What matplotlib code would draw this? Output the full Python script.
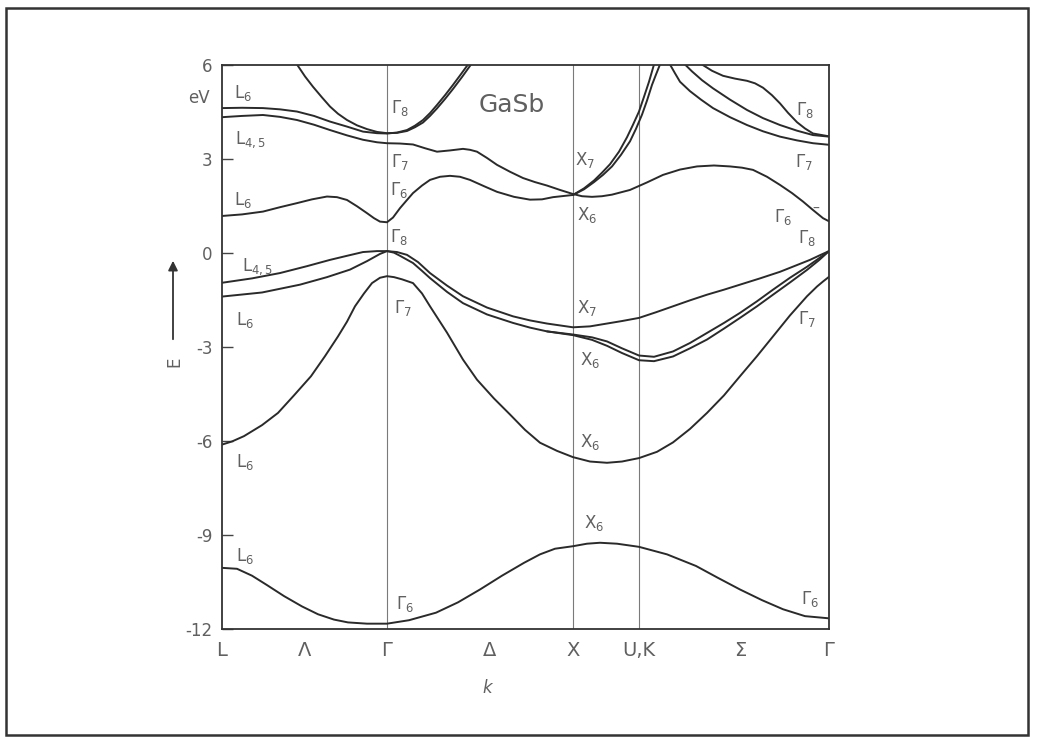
import matplotlib
matplotlib.use("Agg")
import matplotlib.pyplot as plt
from matplotlib.patches import Rectangle

# symmetry points along the path (arbitrary k units)
K_L, K_G, K_X, K_U, K_G2 = 0.0, 1.65, 3.51, 4.17, 6.07
k_ticks = [0.0, 0.83, 1.65, 2.68, 3.51, 4.17, 5.18, 6.07]
k_labels = ["L", "Λ", "Γ", "Δ", "X", "U,K", "Σ", "Γ"]
e_ticks = [-12, -9, -6, -3, 0, 3, 6]

# valence bands
v1_k = [0, 0.15, 0.30, 0.45, 0.62, 0.80, 0.96, 1.12, 1.26, 1.45, 1.65, 1.87, 2.14, 2.36, 2.58, 2.80,
        3.02, 3.18, 3.33, 3.51, 3.65, 3.78, 3.95, 4.17, 4.45, 4.74, 4.96, 5.18, 5.40, 5.61, 5.83, 6.07]
v1_e = [-10.05, -10.08, -10.30, -10.60, -10.95, -11.28, -11.53, -11.70, -11.79, -11.83, -11.83, -11.72,
        -11.48, -11.15, -10.74, -10.30, -9.89, -9.62, -9.44, -9.36, -9.28, -9.25, -9.28, -9.38, -9.62,
        -9.99, -10.37, -10.74, -11.08, -11.37, -11.59, -11.66]

v2_k = [0, 0.10, 0.22, 0.40, 0.56, 0.72, 0.89, 1.03, 1.16, 1.25, 1.33, 1.42, 1.50, 1.58, 1.65, 1.72,
        1.80, 1.91, 2.00, 2.08, 2.25, 2.41, 2.55, 2.72, 2.88, 3.03, 3.18, 3.35, 3.51, 3.68, 3.85, 4.00,
        4.17, 4.35, 4.51, 4.68, 4.85, 5.02, 5.18, 5.35, 5.51, 5.68, 5.85, 5.95, 6.01, 6.07]
v2_e = [-6.12, -6.02, -5.85, -5.50, -5.11, -4.55, -3.94, -3.30, -2.67, -2.20, -1.71, -1.30, -0.97,
        -0.80, -0.75, -0.78, -0.85, -0.97, -1.30, -1.71, -2.55, -3.41, -4.05, -4.65, -5.16, -5.65,
        -6.06, -6.32, -6.52, -6.66, -6.70, -6.66, -6.55, -6.35, -6.05, -5.62, -5.11, -4.55, -3.94,
        -3.30, -2.67, -2.00, -1.39, -1.08, -0.92, -0.77]

v3_k = [0, 0.40, 0.78, 1.05, 1.28, 1.45, 1.58, 1.65, 1.72, 1.78, 1.91, 2.00, 2.08, 2.25, 2.41, 2.65,
        2.91, 3.08, 3.25, 3.51, 3.70, 3.85, 4.00, 4.17, 4.32, 4.51, 4.68, 4.85, 5.02, 5.18, 5.35, 5.51,
        5.68, 5.85, 5.97, 6.07]
v3_e = [-1.40, -1.27, -1.02, -0.78, -0.54, -0.27, -0.04, 0.05, 0.00, -0.10, -0.33, -0.58, -0.81,
        -1.25, -1.61, -1.97, -2.24, -2.39, -2.51, -2.61, -2.70, -2.83, -3.05, -3.28, -3.32, -3.15,
        -2.88, -2.56, -2.24, -1.92, -1.55, -1.18, -0.80, -0.45, -0.18, 0.05]

v4_k = [3.25, 3.51, 3.70, 3.85, 4.00, 4.17, 4.32, 4.51, 4.68, 4.85, 5.02, 5.18, 5.35, 5.51, 5.68,
        5.85, 5.97, 6.07]
v4_e = [-2.51, -2.63, -2.78, -2.97, -3.20, -3.43, -3.46, -3.31, -3.05, -2.77, -2.42, -2.08, -1.71,
        -1.34, -0.95, -0.55, -0.24, 0.05]

v5_k = [0, 0.30, 0.58, 0.85, 1.08, 1.25, 1.41, 1.55, 1.65, 1.75, 1.85, 1.96, 2.08, 2.25, 2.41, 2.65,
        2.91, 3.08, 3.25, 3.51, 3.68, 3.85, 4.00, 4.17, 4.34, 4.51, 4.68, 4.85, 5.02, 5.18, 5.38, 5.58,
        5.73, 5.88, 5.98, 6.07]
v5_e = [-0.96, -0.82, -0.65, -0.43, -0.23, -0.10, 0.02, 0.05, 0.05, 0.02, -0.07, -0.30, -0.65,
        -1.05, -1.39, -1.75, -2.03, -2.16, -2.26, -2.38, -2.35, -2.26, -2.18, -2.08, -1.90, -1.71,
        -1.52, -1.34, -1.18, -1.02, -0.82, -0.61, -0.42, -0.23, -0.08, 0.05]

# conduction bands
c1_k = [0, 0.20, 0.41, 0.58, 0.75, 0.90, 1.05, 1.15, 1.25, 1.35, 1.45, 1.52, 1.58, 1.65, 1.71, 1.78,
        1.85, 1.91, 2.00, 2.08, 2.18, 2.28, 2.38, 2.48, 2.62, 2.75, 2.92, 3.08, 3.20, 3.31, 3.51, 3.62,
        3.72, 3.80, 3.88, 3.97, 4.05, 4.11, 4.17, 4.22, 4.27, 4.32]
c1_e = [1.17, 1.22, 1.31, 1.45, 1.58, 1.70, 1.79, 1.77, 1.68, 1.48, 1.26, 1.10, 0.99, 0.97, 1.12,
        1.42, 1.68, 1.90, 2.14, 2.32, 2.42, 2.45, 2.42, 2.32, 2.12, 1.94, 1.78, 1.69, 1.70, 1.77, 1.84,
        2.05, 2.30, 2.55, 2.82, 3.22, 3.68, 4.08, 4.50, 4.97, 5.45, 6.00]

c2_k = [3.51, 3.62, 3.72, 3.81, 3.90, 3.99, 4.08, 4.14, 4.20, 4.25, 4.30, 4.34, 4.38]
c2_e = [1.84, 2.02, 2.25, 2.48, 2.75, 3.12, 3.55, 3.95, 4.40, 4.85, 5.35, 5.68, 6.00]

c3_k = [0, 0.20, 0.41, 0.58, 0.75, 0.92, 1.08, 1.25, 1.41, 1.55, 1.65, 1.78, 1.91, 2.03, 2.15, 2.28,
        2.41, 2.48, 2.55, 2.65, 2.75, 2.88, 3.01, 3.13, 3.25, 3.38, 3.51, 3.60, 3.70, 3.80, 3.90, 4.08,
        4.25, 4.41, 4.58, 4.75, 4.92, 5.08, 5.20, 5.31, 5.45, 5.58, 5.70, 5.81, 5.91, 6.01, 6.07]
c3_e = [4.32, 4.36, 4.39, 4.33, 4.23, 4.08, 3.91, 3.74, 3.60, 3.52, 3.49, 3.48, 3.45, 3.33, 3.22,
        3.26, 3.31, 3.28, 3.22, 3.02, 2.80, 2.58, 2.38, 2.25, 2.14, 2.00, 1.87, 1.80, 1.78, 1.80, 1.85,
        2.00, 2.24, 2.48, 2.65, 2.75, 2.78, 2.75, 2.71, 2.64, 2.42, 2.16, 1.90, 1.63, 1.36, 1.10, 1.00]

c4_k = [0, 0.20, 0.41, 0.58, 0.75, 0.92, 1.08, 1.25, 1.41, 1.55, 1.65, 1.75, 1.85, 1.93, 2.01, 2.08,
        2.15, 2.23, 2.31, 2.38, 2.46]
c4_e = [4.61, 4.62, 4.61, 4.57, 4.50, 4.36, 4.18, 4.02, 3.86, 3.81, 3.80, 3.83, 3.91, 4.05, 4.23,
        4.45, 4.71, 5.02, 5.35, 5.65, 6.00]

c5_k = [0.75, 0.83, 0.91, 1.00, 1.08, 1.16, 1.25, 1.35, 1.45, 1.55, 1.65, 1.75, 1.85, 1.93, 2.01,
        2.08, 2.15, 2.23, 2.31, 2.40, 2.49]
c5_e = [6.00, 5.62, 5.29, 4.95, 4.66, 4.43, 4.23, 4.06, 3.94, 3.85, 3.81, 3.82, 3.88, 4.00, 4.15,
        4.36, 4.60, 4.90, 5.22, 5.60, 6.00]

c6_k = [4.48, 4.53, 4.58, 4.68, 4.79, 4.91, 5.08, 5.25, 5.41, 5.58, 5.75, 5.91, 6.07]
c6_e = [6.00, 5.72, 5.45, 5.15, 4.88, 4.61, 4.32, 4.07, 3.87, 3.70, 3.58, 3.49, 3.44]

c7_k = [4.63, 4.70, 4.80, 4.91, 5.08, 5.25, 5.41, 5.58, 5.75, 5.91, 6.07]
c7_e = [6.00, 5.78, 5.50, 5.24, 4.88, 4.55, 4.29, 4.07, 3.89, 3.75, 3.70]

c8_k = [4.80, 4.90, 5.01, 5.13, 5.25, 5.33, 5.41, 5.50, 5.58, 5.66, 5.75, 5.83, 5.91, 6.07]
c8_e = [6.00, 5.80, 5.64, 5.55, 5.48, 5.40, 5.26, 5.02, 4.76, 4.46, 4.16, 3.96, 3.80, 3.71]

bands = [(v1_k, v1_e), (v2_k, v2_e), (v3_k, v3_e), (v4_k, v4_e), (v5_k, v5_e),
         (c1_k, c1_e), (c2_k, c2_e), (c3_k, c3_e), (c4_k, c4_e), (c5_k, c5_e),
         (c6_k, c6_e), (c7_k, c7_e), (c8_k, c8_e)]

# state labels: (k, E, text)
state_labels = [
    (0.21, 5.09, r"$\mathrm{L}_6$"), (0.29, 3.60, r"$\mathrm{L}_{4,5}$"),
    (0.21, 1.68, r"$\mathrm{L}_6$"), (0.36, -0.45, r"$\mathrm{L}_{4,5}$"),
    (0.23, -2.14, r"$\mathrm{L}_6$"), (0.23, -6.66, r"$\mathrm{L}_6$"),
    (0.23, -9.68, r"$\mathrm{L}_6$"),
    (1.78, 4.61, r"$\Gamma_8$"), (1.78, 2.89, r"$\Gamma_7$"), (1.77, 2.00, r"$\Gamma_6$"),
    (1.77, 0.51, r"$\Gamma_8$"), (1.81, -1.75, r"$\Gamma_7$"), (1.83, -11.21, r"$\Gamma_6$"),
    (3.63, 2.96, r"$\mathrm{X}_7$"), (3.65, 1.21, r"$\mathrm{X}_6$"),
    (3.65, -1.75, r"$\mathrm{X}_7$"), (3.68, -3.41, r"$\mathrm{X}_6$"),
    (3.68, -6.05, r"$\mathrm{X}_6$"), (3.72, -8.63, r"$\mathrm{X}_6$"),
    (5.83, 4.55, r"$\Gamma_8$"), (5.82, 2.89, r"$\Gamma_7$"), (5.61, 1.14, r"$\Gamma_6$"),
    (5.85, 0.47, r"$\Gamma_8$"), (5.85, -2.13, r"$\Gamma_7$"), (5.88, -11.05, r"$\Gamma_6$"),
]

W, H = 1039, 739
TEXT = "#606060"
LINE = "#2a2a2a"

plt.rcParams["font.family"] = ["DejaVu Sans"]
plt.rcParams["mathtext.fontset"] = "dejavusans"
plt.rcParams["axes.unicode_minus"] = False

fig = plt.figure(figsize=(W / 100, H / 100), dpi=100)
fig.patch.set_facecolor("white")


def fx(x):
    return x / W


def fy(y):
    return 1 - y / H


ax = fig.add_axes([fx(222), fy(629), fx(829) - fx(222), fy(64.5) - fy(629)])

for kk, ee in bands:
    ax.plot(kk, ee, color=LINE, lw=1.4, solid_capstyle="round", solid_joinstyle="round")

for kv in (K_G, K_X, K_U):
    ax.axvline(kv, color="#7a7a7a", lw=0.8, zorder=0)

ax.set_xlim(K_L, K_G2)
ax.set_ylim(-12, 6)

ax.set_yticks(e_ticks)
ax.set_yticklabels([str(t) for t in e_ticks])
ax.tick_params(axis="y", direction="in", length=8, width=1.0, pad=7,
               labelsize=12, labelcolor=TEXT, color="#444444")
ax.set_xticks(k_ticks)
ax.set_xticklabels(k_labels)
ax.tick_params(axis="x", length=0, pad=9, labelsize=14, labelcolor=TEXT)

for sp in ax.spines.values():
    sp.set_color("#333333")
    sp.set_linewidth(1.3)

for kx, ey, txt in state_labels:
    ax.text(kx, ey, txt, color=TEXT, fontsize=12, ha="center", va="center")
ax.text(5.94, 1.40, "–", color=TEXT, fontsize=10, ha="center", va="center")

ax.text(2.90, 4.71, "GaSb", color=TEXT, fontsize=18, ha="center", va="center")

# unit, axis labels and energy arrow
fig.text(fx(199), fy(98), "eV", color=TEXT, fontsize=12, ha="center", va="center")
fig.text(fx(487), fy(688), "k", color=TEXT, fontsize=12, style="italic", ha="center", va="center")
ax.annotate("", xy=(fx(173), fy(258)), xytext=(fx(173), fy(342)),
            xycoords="figure fraction", textcoords="figure fraction",
            arrowprops=dict(arrowstyle="-|>", color="#333333", lw=1.3, mutation_scale=14))
fig.text(fx(174), fy(362), "E", color=TEXT, fontsize=12, rotation=90, ha="center", va="center")

# outer frame
fig.patches.append(Rectangle((fx(6), fy(735)), fx(1028) - fx(6), fy(8) - fy(735),
                             transform=fig.transFigure, fill=False, lw=1.8, ec="#333333"))

fig.savefig("out.png", dpi=100)
